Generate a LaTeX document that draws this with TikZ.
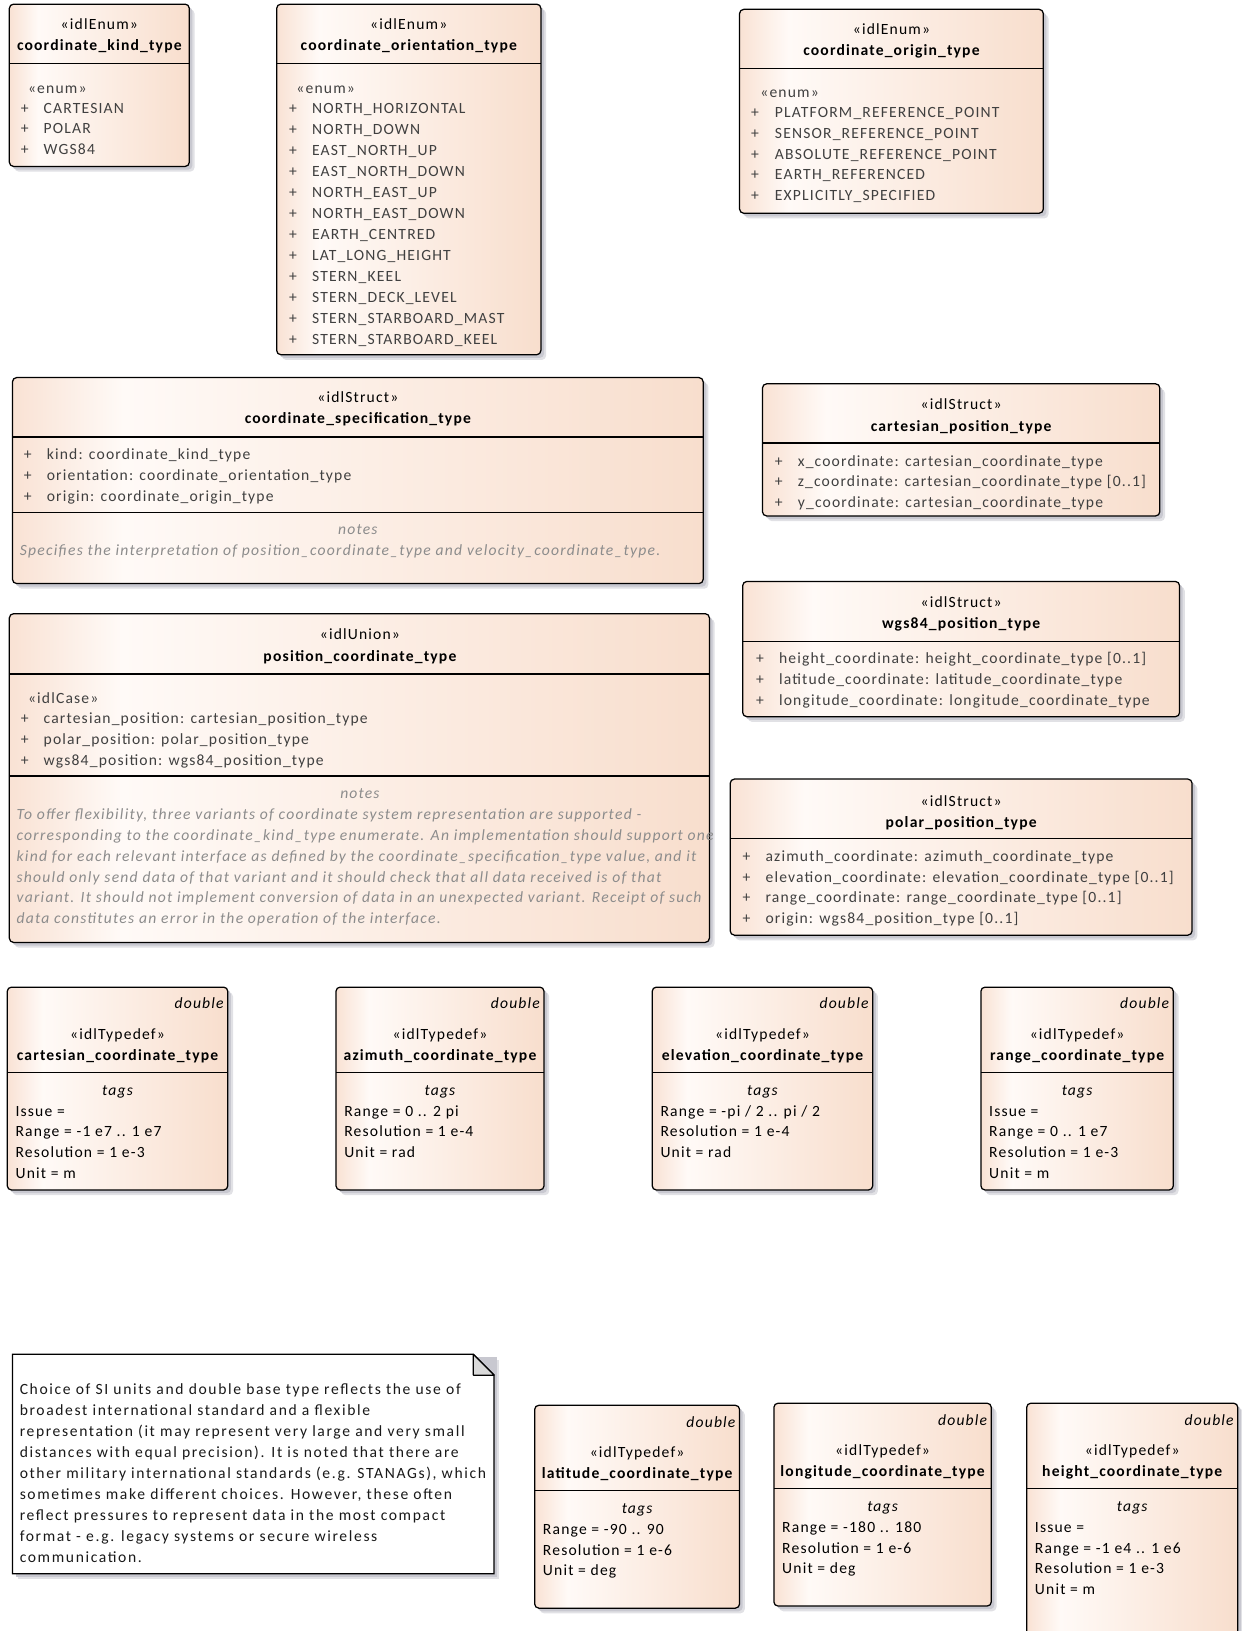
\documentclass[tikz,border=0pt]{standalone}
\usepackage{fontspec}
\setmainfont{Carlito}[LetterSpace=7.5]
\usetikzlibrary{calc}
\definecolor{eaL}{RGB}{249,226,212}
\definecolor{eaM}{RGB}{255,250,247}
\definecolor{eaR}{RGB}{248,222,205}
\definecolor{attrc}{RGB}{64,64,64}
\definecolor{notec}{RGB}{140,140,140}
\definecolor{shadc}{RGB}{200,200,208}
\definecolor{foldc}{RGB}{217,217,217}
\pgfdeclarehorizontalshading{eashade}{100bp}{color(0bp)=(eaL); color(25bp)=(eaL); color(33bp)=(eaM); color(75bp)=(eaR); color(100bp)=(eaR)}
\tikzset{
  boxsty/.style={draw=black, line width=1.2pt, rounded corners=4pt, shading=eashade, inner sep=0pt, outer sep=0pt, anchor=north west},
  seps/.style={draw=black, line width=1.2pt},
  txtbase/.style={inner sep=0pt, outer sep=0pt, font=\fontsize{15}{18}\selectfont},
  attr/.style={txtbase, text=attrc, anchor=base west},
  stereo/.style={txtbase, text=black, anchor=base},
  titlesty/.style={txtbase, text=black, anchor=base, font=\fontsize{15}{18}\selectfont\bfseries},
  notehd/.style={txtbase, text=notec, anchor=base, font=\fontsize{15}{18}\selectfont\itshape},
  notetx/.style={txtbase, text=notec, anchor=base west, font=\fontsize{15}{18}\selectfont\itshape\addfontfeatures{LetterSpace=8}},
  italtx/.style={txtbase, text=black, font=\fontsize{15}{18}\selectfont\itshape},
  tagtx/.style={txtbase, text=black, anchor=base west},
  notebody/.style={txtbase, text=black!90, anchor=base west, font=\fontsize{15}{18}\selectfont\addfontfeatures{LetterSpace=10.5}},
}
\newcommand\eabox[5]{%
  \pgfmathsetmacro\bw{#4-#2}\pgfmathsetmacro\bh{#5-#3}%
  \fill[shadc!55, rounded corners=4pt] (#2+5,#3+5) rectangle (#4+5,#5+5);
  \fill[shadc, rounded corners=4pt] (#2+3,#3+3) rectangle (#4+3,#5+3);
  \node[boxsty, minimum width=\bw pt, minimum height=\bh pt] (#1) at (#2,#3) {};}
\newcommand\sepl[3]{\draw[seps] (#1,#3) -- (#2,#3);}
\newcommand\hdr[5]{%
  \node[stereo] (#1-st) at (#2,#3+5) {«#4»};
  \node[titlesty] (#1-nm) at (#2,#3+25.5) {#5};}
\newcommand\pl[5]{%
  \node[attr] (#1-p) at (#2,#4+5) {+};
  \node[attr] (#1) at (#3,#4+5) {#5};}
\newcommand\tdbox[7]{%
  \eabox{#1}{#2}{#3}{#4}{#5}%
  \node[italtx, anchor=base east] (#1-db) at (#4-4,#3+21) {double};
  \pgfmathsetmacro\cx{(#2+#4)/2}%
  \hdr{#1}{\cx}{#3+45}{idlTypedef}{#6}
  \sepl{#2}{#4}{#3+82}
  \node[italtx, anchor=base] (#1-tg) at (\cx,#3+104) {tags};
  \foreach \t [count=\i] in {#7} {\node[tagtx] (#1-\i) at (#2+8,#3+124+20*\i-20) {\t};}
}
\begin{document}
\begin{tikzpicture}[x=1pt,y=-1pt]
\useasboundingbox (0,0) rectangle (1194,1568);

% coordinate_kind_type
\eabox{kind}{9}{4}{182}{160}
\hdr{kind}{95.5}{23}{idlEnum}{coordinate\_kind\_type}
\sepl{9}{182}{61}
\node[attr] (kind-e) at (27,90) {«enum»};
\foreach \t [count=\i] in {CARTESIAN,POLAR,WGS84}
  {\pl{kind-\i}{20}{42}{104+19.8*\i-19.8}{\t}}

% coordinate_orientation_type
\eabox{orient}{266}{4}{520}{341}
\hdr{orient}{393}{23}{idlEnum}{coordinate\_orientation\_type}
\sepl{266}{520}{61}
\node[attr] (orient-e) at (285,90) {«enum»};
\foreach \t [count=\i] in {NORTH\_HORIZONTAL,NORTH\_DOWN,EAST\_NORTH\_UP,EAST\_NORTH\_DOWN,NORTH\_EAST\_UP,NORTH\_EAST\_DOWN,EARTH\_CENTRED,LAT\_LONG\_HEIGHT,STERN\_KEEL,STERN\_DECK\_LEVEL,STERN\_STARBOARD\_MAST,STERN\_STARBOARD\_KEEL}
  {\pl{orient-\i}{278}{300}{104+20.18*\i-20.18}{\t}}

% coordinate_origin_type
\eabox{origin}{711}{9}{1003}{205}
\hdr{origin}{857}{28}{idlEnum}{coordinate\_origin\_type}
\sepl{711}{1003}{66}
\node[attr] (origin-e) at (731,94) {«enum»};
\foreach \t [count=\i] in {PLATFORM\_REFERENCE\_POINT,SENSOR\_REFERENCE\_POINT,ABSOLUTE\_REFERENCE\_POINT,EARTH\_REFERENCED,EXPLICITLY\_SPECIFIED}
  {\pl{origin-\i}{722}{745}{108+20*\i-20}{\t}}

% coordinate_specification_type
\eabox{spec}{12}{363}{676}{561}
\hdr{spec}{344}{382}{idlStruct}{coordinate\_specification\_type}
\sepl{12}{676}{420}
\foreach \t [count=\i] in {kind: coordinate\_kind\_type,orientation: coordinate\_orientation\_type,origin: coordinate\_origin\_type}
  {\pl{spec-\i}{23}{45}{437+20*\i-20}{\t}}
\sepl{12}{676}{493}
\node[notehd] (spec-nh) at (344,514) {notes};
\node[notetx] (spec-nt) at (19,534) {Specifies the interpretation of position\_coordinate\_type and velocity\_coordinate\_type.};

% cartesian_position_type
\eabox{cpos}{733}{369}{1115}{496}
\hdr{cpos}{924}{389}{idlStruct}{cartesian\_position\_type}
\sepl{733}{1115}{426}
\foreach \t [count=\i] in {x\_coordinate: cartesian\_coordinate\_type,z\_coordinate: cartesian\_coordinate\_type [0..1],y\_coordinate: cartesian\_coordinate\_type}
  {\pl{cpos-\i}{745}{767}{443+20*\i-20}{\t}}

% wgs84_position_type
\eabox{wpos}{714}{559}{1134}{689}
\hdr{wpos}{924}{579}{idlStruct}{wgs84\_position\_type}
\sepl{714}{1134}{617}
\foreach \t [count=\i] in {height\_coordinate: height\_coordinate\_type [0..1],latitude\_coordinate: latitude\_coordinate\_type,longitude\_coordinate: longitude\_coordinate\_type}
  {\pl{wpos-\i}{727}{749}{633+20*\i-20}{\t}}

% position_coordinate_type
\eabox{pct}{9}{590}{682}{906}
\hdr{pct}{346}{610}{idlUnion}{position\_coordinate\_type}
\sepl{9}{682}{648}
\node[attr] (pct-c) at (27,676) {«idlCase»};
\foreach \t [count=\i] in {cartesian\_position: cartesian\_position\_type,polar\_position: polar\_position\_type,wgs84\_position: wgs84\_position\_type}
  {\pl{pct-\i}{20}{42}{691+20*\i-20}{\t}}
\sepl{9}{682}{746}
\node[notehd] (pct-nh) at (346,768) {notes};
\foreach \t [count=\i] in {{To offer flexibility, three variants of coordinate system representation are supported -},{corresponding to the coordinate\_kind\_type enumerate. An implementation should support one},{kind for each relevant interface as defined by the coordinate\_specification\_type value, and it},{should only send data of that variant and it should check that all data received is of that},{variant. It should not implement conversion of data in an unexpected variant. Receipt of such},{data constitutes an error in the operation of the interface.}}
  {\node[notetx] (pct-n\i) at (16,788+20*\i-20) {\t};}

% polar_position_type
\eabox{ppos}{702}{749}{1146}{899}
\hdr{ppos}{924}{770}{idlStruct}{polar\_position\_type}
\sepl{702}{1146}{806}
\foreach \t [count=\i] in {azimuth\_coordinate: azimuth\_coordinate\_type,elevation\_coordinate: elevation\_coordinate\_type [0..1],range\_coordinate: range\_coordinate\_type [0..1],origin: wgs84\_position\_type [0..1]}
  {\pl{ppos-\i}{714}{736}{823+20*\i-20}{\t}}

% typedefs row 1
\tdbox{cct}{7}{949}{219}{1144}{cartesian\_coordinate\_type}{Issue =,Range = -1 e7 .. 1 e7,Resolution = 1 e-3,Unit = m}
\tdbox{act}{323}{949}{523}{1144}{azimuth\_coordinate\_type}{Range = 0 .. 2 pi,Resolution = 1 e-4,Unit = rad}
\tdbox{ect}{627}{949}{839}{1144}{elevation\_coordinate\_type}{Range = -pi / 2 .. pi / 2,Resolution = 1 e-4,Unit = rad}
\tdbox{rct}{943}{949}{1128}{1144}{range\_coordinate\_type}{Issue =,Range = 0 .. 1 e7,Resolution = 1 e-3,Unit = m}

% note
\fill[shadc!55] (17,1307) rectangle (480,1518);
\fill[shadc] (15,1305) rectangle (478,1516);
\draw[line width=1.2pt, fill=white] (12,1302) -- (455,1302) -- (475,1322) -- (475,1513) -- (12,1513) -- cycle;
\draw[line width=1.2pt, fill=foldc, line join=round] (455,1302) -- (455,1322) -- (475,1322) -- cycle;
\foreach \t [count=\i] in {{Choice of SI units and double base type reflects the use of},{broadest international standard and a flexible},{representation (it may represent very large and very small},{distances with equal precision). It is noted that there are},{other military international standards (e.g. STANAGs), which},{sometimes make different choices. However, these often},{reflect pressures to represent data in the most compact},{format - e.g. legacy systems or secure wireless},{communication.}}
  {\node[notebody] (note-\i) at (19,1341+20.1*\i-20.1) {\t};}

% typedefs row 2
\tdbox{lat}{514}{1351}{711}{1546}{latitude\_coordinate\_type}{Range = -90 .. 90,Resolution = 1 e-6,Unit = deg}
\tdbox{lon}{744}{1349}{953}{1544}{longitude\_coordinate\_type}{Range = -180 .. 180,Resolution = 1 e-6,Unit = deg}
\tdbox{hgt}{987}{1349}{1190}{1640}{height\_coordinate\_type}{Issue =,Range = -1 e4 .. 1 e6,Resolution = 1 e-3,Unit = m}
\end{tikzpicture}
\end{document}
